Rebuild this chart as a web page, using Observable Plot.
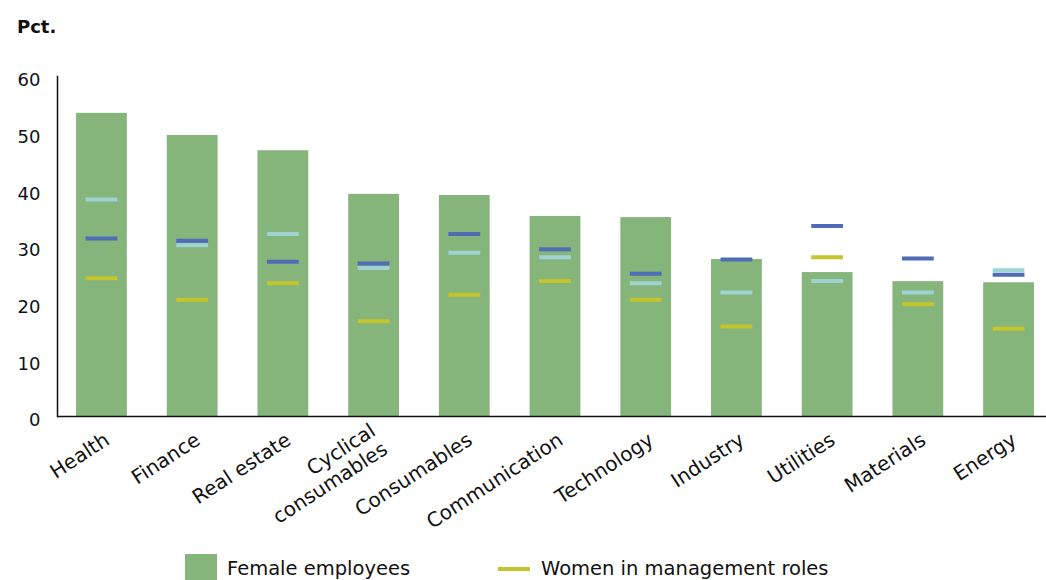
<!DOCTYPE html>
<html>
<head>
<meta charset="utf-8">
<script src="https://cdn.jsdelivr.net/npm/d3@7"></script>
<script src="https://cdn.jsdelivr.net/npm/@observablehq/plot@0.6"></script>
<style>
  html, body { margin: 0; padding: 0; background: #fff; }
  body { width: 1046px; height: 580px; overflow: hidden; font-family: "DejaVu Sans", sans-serif; color: #111; }
  #title { position: relative; height: 38px; }
  #title span { position: absolute; left: 17px; top: 16px; font-weight: bold; font-size: 18px; line-height: 22px; }
  #chart svg { display: block; }
  #legend { position: relative; height: 42px; }
  .sw { position: absolute; }
  .lt { position: absolute; font-size: 19.5px; line-height: 24px; white-space: nowrap; }
</style>
</head>
<body>
<div id="title"><span>Pct.</span></div>
<div id="chart"></div>
<div id="legend">
  <div class="sw" style="left:185px; top:16px; width:32px; height:32px; background:#85b57b;"></div>
  <div class="lt" style="left:227px; top:19px;">Female employees</div>
  <div class="sw" style="left:498px; top:29px; width:32px; height:4px; background:#c4c42c;"></div>
  <div class="lt" style="left:541px; top:19px;">Women in management roles</div>
</div>
<script>
const categories = ["Health", "Finance", "Real estate", "Cyclical consumables", "Consumables", "Communication", "Technology", "Industry", "Utilities", "Materials", "Energy"];
const categoryLabels = ["Health", "Finance", "Real estate", "Cyclical\nconsumables", "Consumables", "Communication", "Technology", "Industry", "Utilities", "Materials", "Energy"];
const femaleEmployees = [53.5, 49.6, 46.9, 39.2, 39.0, 35.3, 35.1, 27.7, 25.4, 23.8, 23.6];
const womenInManagement = [24.4, 20.6, 23.5, 16.8, 21.5, 23.9, 20.6, 15.9, 28.1, 19.8, 15.5];
const lightBlueSeries = [38.3, 30.2, 32.2, 26.2, 28.9, 28.1, 23.5, 21.9, 23.9, 21.9, 25.8];
const darkBlueSeries = [31.4, 31.0, 27.3, 27.0, 32.2, 29.5, 25.2, 27.7, 33.6, 27.9, 25.0];
const yTicks = [0, 10, 20, 30, 40, 50, 60];

const rows = categories.map((c, i) => ({
  cat: c,
  label: categoryLabels[i],
  female: femaleEmployees[i],
  mgmt: womenInManagement[i],
  light: lightBlueSeries[i],
  dark: darkBlueSeries[i]
}));

const markInset = 9.5;

const chart = Plot.plot({
  width: 1046,
  height: 500,
  marginTop: 38,
  marginBottom: 122,
  marginLeft: 57,
  marginRight: 0,
  style: { fontFamily: "DejaVu Sans, sans-serif", color: "#111", background: "#fff" },
  x: { type: "band", domain: categories, range: [57, 1053], paddingInner: 0.44, paddingOuter: 0.21, round: false, axis: null },
  y: { domain: [0, 60], ticks: yTicks },
  marks: [
    Plot.barY(rows, { x: "cat", y: "female", fill: "#85b57b" }),
    Plot.tickY(rows, { x: "cat", y: "mgmt", stroke: "#c4c42c", strokeWidth: 4, inset: markInset }),
    Plot.tickY(rows, { x: "cat", y: "light", stroke: "#9ed3d1", strokeWidth: 4, inset: markInset }),
    Plot.tickY(rows, { x: "cat", y: "dark", stroke: "#4e6db6", strokeWidth: 4, inset: markInset }),
    Plot.axisY({ ticks: yTicks, tickSize: 0, tickPadding: 17, dy: 4, fontSize: 18, label: null }),
    Plot.frame({ anchor: "left", stroke: "#111", strokeWidth: 1.5 }),
    Plot.ruleY([0], { stroke: "#111", strokeWidth: 1.5 }),
    Plot.text(rows, {
      x: "cat",
      text: "label",
      frameAnchor: "bottom",
      dx: 5,
      dy: 21,
      rotate: -33,
      textAnchor: "end",
      lineAnchor: "middle",
      lineHeight: 1.1,
      fontSize: 20,
      fill: "#111"
    })
  ]
});

document.getElementById("chart").appendChild(chart);
</script>
</body>
</html>
